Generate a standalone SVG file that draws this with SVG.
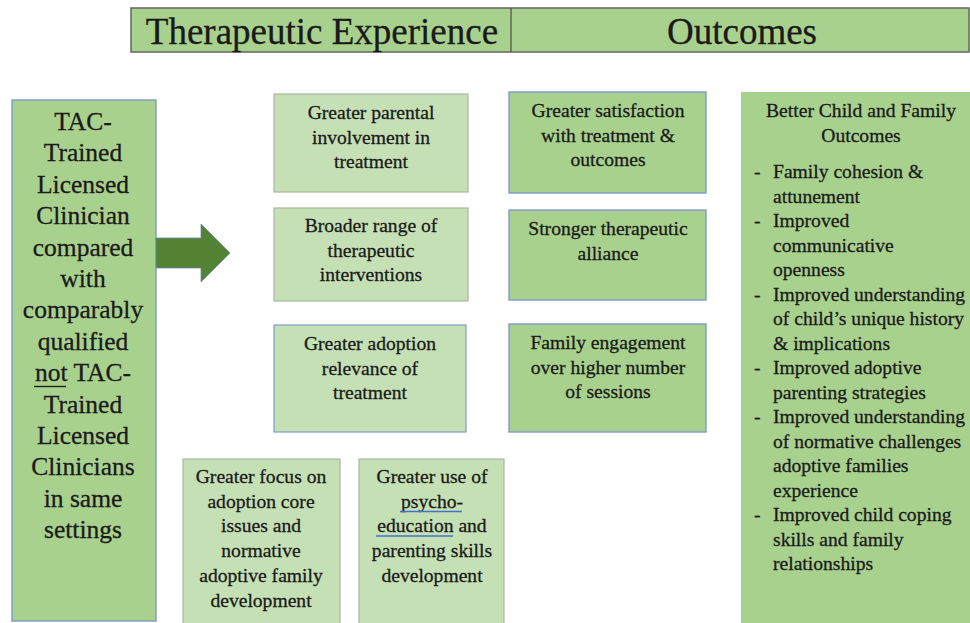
<svg xmlns="http://www.w3.org/2000/svg" width="970" height="623" viewBox="0 0 970 623">
  <style>
    text { font-family: 'Liberation Serif', 'Times New Roman', serif; fill: #1a1a1a; stroke: #1a1a1a; stroke-width: 0.3; }
    .hdr { font-size: 37px; text-anchor: middle; }
    .big { font-size: 25.5px; text-anchor: middle; }
    .sm { font-size: 19.6px; text-anchor: middle; }
    .li { font-size: 19.6px; }
    .light { fill: #c5e0b4; stroke: #aab5a2; stroke-width: 1.2; }
    .lightb { fill: #c5e0b4; stroke: #7f9bc9; stroke-width: 1.2; }
    .mid { fill: #a9d18e; stroke: #7f9bc9; stroke-width: 1.4; }
    .plain { fill: #a9d18e; stroke: none; }
  </style>

  <!-- header bar -->
  <g id="header">
    <rect x="131" y="8" width="838" height="44" fill="#a9d18e" stroke="#6b6b6b" stroke-width="1.6"/>
    <line x1="511" y1="8" x2="511" y2="52" stroke="#4a4a4a" stroke-width="1.2"/>
    <text class="hdr" x="322" y="44">Therapeutic Experience</text>
    <text class="hdr" x="742" y="44">Outcomes</text>
  </g>

  <!-- clinician box -->
  <g id="clinician">
    <rect class="mid" x="12" y="100" width="144" height="521"/>
    <text class="big" x="83" y="130">TAC-</text>
    <text class="big" x="83" y="161.4">Trained</text>
    <text class="big" x="83" y="192.8">Licensed</text>
    <text class="big" x="83" y="224.2">Clinician</text>
    <text class="big" x="83" y="255.6">compared</text>
    <text class="big" x="83" y="287">with</text>
    <text class="big" x="83" y="318.4">comparably</text>
    <text class="big" x="83" y="349.8">qualified</text>
    <text class="big" x="83" y="381.2">not TAC-</text>
    <line x1="34" y1="386.5" x2="66" y2="386.5" stroke="#1a1a1a" stroke-width="1.3"/>
    <text class="big" x="83" y="412.6">Trained</text>
    <text class="big" x="83" y="444">Licensed</text>
    <text class="big" x="83" y="475.4">Clinicians</text>
    <text class="big" x="83" y="506.8">in same</text>
    <text class="big" x="83" y="538.2">settings</text>
  </g>

  <!-- block arrow -->
  <g id="connectors">
    <polygon points="156,238 201,238 201,224 230,253 201,282 201,268 156,268" fill="#548235" stroke="#6f87a8" stroke-width="0.8"/>
  </g>

  <!-- therapeutic experience boxes -->
  <g id="parental">
    <rect class="light" x="274" y="94" width="194" height="98"/>
    <text class="sm" x="371" y="119">Greater parental</text>
    <text class="sm" x="371" y="143.5">involvement in</text>
    <text class="sm" x="371" y="168">treatment</text>
  </g>
  <g id="interventions">
    <rect class="light" x="274" y="208" width="194" height="93"/>
    <text class="sm" x="371" y="232">Broader range of</text>
    <text class="sm" x="371" y="256.5">therapeutic</text>
    <text class="sm" x="371" y="281">interventions</text>
  </g>
  <g id="relevance">
    <rect class="lightb" x="274" y="325" width="192" height="107"/>
    <text class="sm" x="370" y="350">Greater adoption</text>
    <text class="sm" x="370" y="374.5">relevance of</text>
    <text class="sm" x="370" y="399">treatment</text>
  </g>
  <g id="core-issues">
    <rect class="light" x="183" y="459" width="157" height="170"/>
    <text class="sm" x="261" y="483">Greater focus on</text>
    <text class="sm" x="261" y="507.7">adoption core</text>
    <text class="sm" x="261" y="532.4">issues and</text>
    <text class="sm" x="261" y="557.1">normative</text>
    <text class="sm" x="261" y="581.8">adoptive family</text>
    <text class="sm" x="261" y="606.5">development</text>
  </g>
  <g id="psychoeducation">
    <rect class="light" x="359" y="459" width="145" height="170"/>
    <text class="sm" x="432" y="483">Greater use of</text>
    <text class="sm" x="432" y="507.7">psycho-</text>
    <text class="sm" x="432" y="532.4">education and</text>
    <text class="sm" x="432" y="557.1">parenting skills</text>
    <text class="sm" x="432" y="581.8">development</text>
    <line x1="400" y1="511.5" x2="462" y2="511.5" stroke="#4472c4" stroke-width="1.6"/>
    <line x1="376" y1="536" x2="453" y2="536" stroke="#4472c4" stroke-width="1.6"/>
  </g>

  <!-- outcome boxes -->
  <g id="satisfaction">
    <rect class="mid" x="509" y="92" width="197" height="101"/>
    <text class="sm" x="608" y="117">Greater satisfaction</text>
    <text class="sm" x="608" y="141.5">with treatment &amp;</text>
    <text class="sm" x="608" y="166">outcomes</text>
  </g>
  <g id="alliance">
    <rect class="mid" x="509" y="210" width="197" height="90"/>
    <text class="sm" x="608" y="235">Stronger therapeutic</text>
    <text class="sm" x="608" y="259.5">alliance</text>
  </g>
  <g id="engagement">
    <rect class="mid" x="509" y="324" width="197" height="108"/>
    <text class="sm" x="608" y="349">Family engagement</text>
    <text class="sm" x="608" y="373.5">over higher number</text>
    <text class="sm" x="608" y="398">of sessions</text>
  </g>

  <!-- family outcomes list -->
  <g id="family-outcomes">
    <rect class="plain" x="741" y="92" width="232" height="535"/>
    <text class="sm" x="861" y="117">Better Child and Family</text>
    <text class="sm" x="861" y="141.5">Outcomes</text>
    <g class="li">
      <text x="754" y="178">-</text><text x="773" y="178">Family cohesion &amp;</text>
      <text x="773" y="202.5">attunement</text>
      <text x="754" y="227">-</text><text x="773" y="227">Improved</text>
      <text x="773" y="251.5">communicative</text>
      <text x="773" y="276">openness</text>
      <text x="754" y="300.5">-</text><text x="773" y="300.5">Improved understanding</text>
      <text x="773" y="325">of child’s unique history</text>
      <text x="773" y="349.5">&amp; implications</text>
      <text x="754" y="374">-</text><text x="773" y="374">Improved adoptive</text>
      <text x="773" y="398.5">parenting strategies</text>
      <text x="754" y="423">-</text><text x="773" y="423">Improved understanding</text>
      <text x="773" y="447.5">of normative challenges</text>
      <text x="773" y="472">adoptive families</text>
      <text x="773" y="496.5">experience</text>
      <text x="754" y="521">-</text><text x="773" y="521">Improved child coping</text>
      <text x="773" y="545.5">skills and family</text>
      <text x="773" y="570">relationships</text>
    </g>
  </g>
</svg>
